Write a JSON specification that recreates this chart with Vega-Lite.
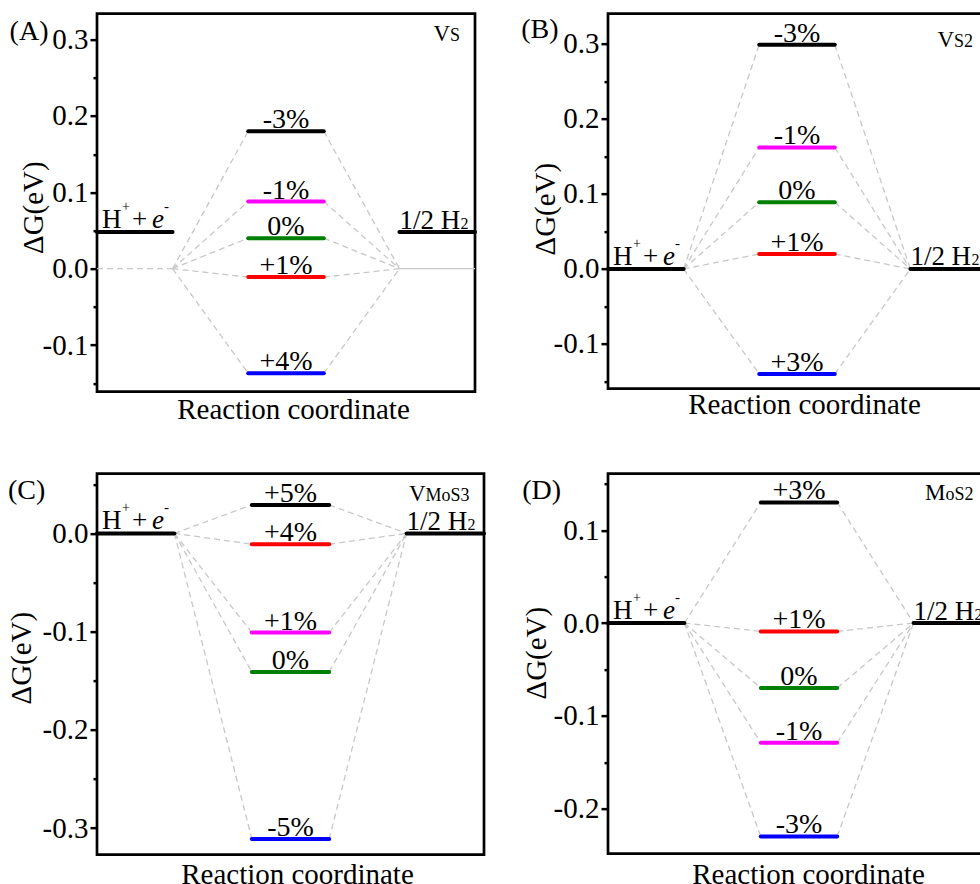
{
"$schema": "https://vega.github.io/schema/vega-lite/v6.json",
"padding": {"left": 5, "top": 11.65, "right": 0, "bottom": 0},
"bounds": "flush",
"columns": 2,
"spacing": {"row": 82, "column": 124},
"datasets": {
"levels": [
{"panel":"A","kind":"reactant","label":"H+ + e-","dg":0.048,"ref":0},
{"panel":"A","kind":"product","label":"1/2 H2","dg":0.048,"ref":0},
{"panel":"A","kind":"strain","label":"-3%","dg":0.18,"series":"1","ref":0},
{"panel":"A","kind":"strain","label":"-1%","dg":0.088,"series":"2","ref":0},
{"panel":"A","kind":"strain","label":"0%","dg":0.04,"series":"3","ref":0},
{"panel":"A","kind":"strain","label":"+1%","dg":-0.011,"series":"4","ref":0},
{"panel":"A","kind":"strain","label":"+4%","dg":-0.137,"series":"5","ref":0},
{"panel":"B","kind":"reactant","label":"H+ + e-","dg":0,"ref":0},
{"panel":"B","kind":"product","label":"1/2 H2","dg":0,"ref":0},
{"panel":"B","kind":"strain","label":"-3%","dg":0.299,"series":"1","ref":0},
{"panel":"B","kind":"strain","label":"-1%","dg":0.162,"series":"2","ref":0},
{"panel":"B","kind":"strain","label":"0%","dg":0.089,"series":"3","ref":0},
{"panel":"B","kind":"strain","label":"+1%","dg":0.02,"series":"4","ref":0},
{"panel":"B","kind":"strain","label":"+3%","dg":-0.14,"series":"5","ref":0},
{"panel":"C","kind":"reactant","label":"H+ + e-","dg":0,"ref":0},
{"panel":"C","kind":"product","label":"1/2 H2","dg":0,"ref":0},
{"panel":"C","kind":"strain","label":"+5%","dg":0.029,"series":"1","ref":0},
{"panel":"C","kind":"strain","label":"+4%","dg":-0.011,"series":"4","ref":0},
{"panel":"C","kind":"strain","label":"+1%","dg":-0.101,"series":"2","ref":0},
{"panel":"C","kind":"strain","label":"0%","dg":-0.141,"series":"3","ref":0},
{"panel":"C","kind":"strain","label":"-5%","dg":-0.311,"series":"5","ref":0},
{"panel":"D","kind":"reactant","label":"H+ + e-","dg":0,"ref":0},
{"panel":"D","kind":"product","label":"1/2 H2","dg":0,"ref":0},
{"panel":"D","kind":"strain","label":"+3%","dg":0.13,"series":"1","ref":0},
{"panel":"D","kind":"strain","label":"+1%","dg":-0.009,"series":"4","ref":0},
{"panel":"D","kind":"strain","label":"0%","dg":-0.07,"series":"3","ref":0},
{"panel":"D","kind":"strain","label":"-1%","dg":-0.129,"series":"2","ref":0},
{"panel":"D","kind":"strain","label":"-3%","dg":-0.23,"series":"5","ref":0}
],
"panels": [
{"panel":"A","letter":"(A)","site":"V","sub":"S"},
{"panel":"B","letter":"(B)","site":"V","sub":"S2"},
{"panel":"C","letter":"(C)","site":"V","sub":"MoS3"},
{"panel":"D","letter":"(D)","site":"M","sub":"oS2"}
]
},
"concat": [
{"width":378,"height":378,
"layer":[
{"data":{"name":"levels"},"transform":[{"filter":"datum.panel==='A' && datum.kind==='reactant'"}],
"mark":{"type":"rule","color":"#c8c8c8","strokeWidth":1.3,"strokeDash":[6,4]},
"encoding":{
"x":{"datum":0,"type":"quantitative","scale":{"domain":[0,5],"nice":false,"zero":false},"axis":{"title":"Reaction coordinate","titleX":196,"titleY":3.5}},
"x2":{"datum":1},
"y":{"field":"ref","type":"quantitative","scale":{"domain":[-0.161,0.334],"nice":false,"zero":false},
"axis":{"title":"ΔG(eV)","titleX":-49,"titleY":193.5,"values":[-0.15,-0.1,-0.05,0,0.05,0.1,0.15,0.2,0.25,0.3],
"labelExpr":"abs(datum.value*10-round(datum.value*10))<1e-6 ? replace(format(datum.value,'.1f'),'\u2212','-') : ''",
"tickSize":{"condition":{"test":"abs(datum.value*10-round(datum.value*10))<1e-6","value":7},"value":4}}}}},
{"data":{"name":"levels"},"transform":[{"filter":"datum.panel==='A' && datum.kind==='reactant'"}],
"mark":{"type":"rule","color":"#cccccc","strokeWidth":1.2},
"encoding":{"x":{"datum":4,"type":"quantitative"},"x2":{"datum":5},"y":{"field":"ref","type":"quantitative"}}},
{"data":{"name":"levels"},"transform":[{"filter":"datum.panel==='A' && datum.kind==='strain'"}],
"mark":{"type":"rule","color":"#c8c8c8","strokeWidth":1.3,"strokeDash":[6,4]},
"encoding":{"x":{"datum":1,"type":"quantitative"},"x2":{"datum":2},"y":{"field":"ref","type":"quantitative"},"y2":{"field":"dg"}}},
{"data":{"name":"levels"},"transform":[{"filter":"datum.panel==='A' && datum.kind==='strain'"}],
"mark":{"type":"rule","color":"#c8c8c8","strokeWidth":1.3,"strokeDash":[6,4]},
"encoding":{"x":{"datum":3,"type":"quantitative"},"x2":{"datum":4},"y":{"field":"dg","type":"quantitative"},"y2":{"field":"ref"}}},
{"data":{"name":"levels"},"transform":[{"filter":"datum.panel==='A' && datum.kind==='strain'"}],
"mark":{"type":"rule","strokeWidth":4,"strokeCap":"round"},
"encoding":{"x":{"datum":2,"type":"quantitative"},"x2":{"datum":3},"y":{"field":"dg","type":"quantitative"},
"color":{"field":"series","type":"nominal","scale":{"domain":["1","2","3","4","5"],"range":["#000000","#ff00ff","#007f00","#ff0000","#0000ff"]},"legend":null}}},
{"data":{"name":"levels"},"transform":[{"filter":"datum.panel==='A' && datum.kind==='reactant'"}],
"mark":{"type":"rule","strokeWidth":4,"strokeCap":"round","color":"#000000"},
"encoding":{"x":{"datum":0,"type":"quantitative"},"x2":{"datum":1},"y":{"field":"dg","type":"quantitative"}}},
{"data":{"name":"levels"},"transform":[{"filter":"datum.panel==='A' && datum.kind==='product'"}],
"mark":{"type":"rule","strokeWidth":4,"strokeCap":"round","color":"#000000"},
"encoding":{"x":{"datum":4,"type":"quantitative"},"x2":{"datum":5},"y":{"field":"dg","type":"quantitative"}}},
{"data":{"name":"levels"},"transform":[{"filter":"datum.panel==='A' && datum.kind==='strain'"}],
"mark":{"type":"text","align":"center","dy":-3,"fontSize":28},
"encoding":{"x":{"datum":2.5,"type":"quantitative"},"y":{"field":"dg","type":"quantitative"},"text":{"field":"label"}}},
{"data":{"name":"levels"},"transform":[{"filter":"datum.panel==='A' && datum.kind==='reactant'"}],
"mark":{"type":"text","text":"H","align":"left","dx":5,"dy":-4,"fontSize":27},
"encoding":{"x":{"datum":0,"type":"quantitative"},"y":{"field":"dg","type":"quantitative"}}},
{"data":{"name":"levels"},"transform":[{"filter":"datum.panel==='A' && datum.kind==='reactant'"}],
"mark":{"type":"text","text":"+","align":"left","dx":25,"dy":-21,"fontSize":14},
"encoding":{"x":{"datum":0,"type":"quantitative"},"y":{"field":"dg","type":"quantitative"}}},
{"data":{"name":"levels"},"transform":[{"filter":"datum.panel==='A' && datum.kind==='reactant'"}],
"mark":{"type":"text","text":"+","align":"left","dx":35,"dy":-4,"fontSize":27},
"encoding":{"x":{"datum":0,"type":"quantitative"},"y":{"field":"dg","type":"quantitative"}}},
{"data":{"name":"levels"},"transform":[{"filter":"datum.panel==='A' && datum.kind==='reactant'"}],
"mark":{"type":"text","text":"e","align":"left","dx":55,"dy":-4,"fontSize":27,"fontStyle":"italic"},
"encoding":{"x":{"datum":0,"type":"quantitative"},"y":{"field":"dg","type":"quantitative"}}},
{"data":{"name":"levels"},"transform":[{"filter":"datum.panel==='A' && datum.kind==='reactant'"}],
"mark":{"type":"text","text":"-","align":"left","dx":67,"dy":-21,"fontSize":15},
"encoding":{"x":{"datum":0,"type":"quantitative"},"y":{"field":"dg","type":"quantitative"}}},
{"data":{"name":"levels"},"transform":[{"filter":"datum.panel==='A' && datum.kind==='product'"}],
"mark":{"type":"text","text":"1/2 H","align":"left","dx":0,"dy":-3.5,"fontSize":27},
"encoding":{"x":{"datum":4,"type":"quantitative"},"y":{"field":"dg","type":"quantitative"}}},
{"data":{"name":"levels"},"transform":[{"filter":"datum.panel==='A' && datum.kind==='product'"}],
"mark":{"type":"text","text":"2","align":"left","dx":61,"dy":-3.5,"fontSize":16},
"encoding":{"x":{"datum":4,"type":"quantitative"},"y":{"field":"dg","type":"quantitative"}}},
{"data":{"name":"panels"},"transform":[{"filter":"datum.panel==='A'"}],
"mark":{"type":"text","align":"left","fontSize":28},
"encoding":{"x":{"datum":-1.156,"type":"quantitative"},"y":{"datum":0.299,"type":"quantitative"},"text":{"field":"letter"}}},
{"data":{"name":"panels"},"transform":[{"filter":"datum.panel==='A'"}],
"mark":{"type":"text","align":"left","fontSize":23},
"encoding":{"x":{"datum":4.452,"type":"quantitative"},"y":{"datum":0.2977,"type":"quantitative"},"text":{"field":"site"}}},
{"data":{"name":"panels"},"transform":[{"filter":"datum.panel==='A'"}],
"mark":{"type":"text","align":"left","fontSize":18,"dx":16.5},
"encoding":{"x":{"datum":4.452,"type":"quantitative"},"y":{"datum":0.2977,"type":"quantitative"},"text":{"field":"sub"}}}
]},
{"width":378,"height":375,
"layer":[
{"data":{"name":"levels"},"transform":[{"filter":"datum.panel==='B' && datum.kind==='reactant'"}],
"mark":{"type":"rule","color":"#c8c8c8","strokeWidth":1.3,"strokeDash":[6,4]},
"encoding":{
"x":{"datum":0,"type":"quantitative","scale":{"domain":[0,5],"nice":false,"zero":false},"axis":{"title":"Reaction coordinate","titleX":196,"titleY":1.5}},
"x2":{"datum":1},
"y":{"field":"ref","type":"quantitative","scale":{"domain":[-0.1596,0.3404],"nice":false,"zero":false},
"axis":{"title":"ΔG(eV)","titleX":-47,"titleY":195,"values":[-0.15,-0.1,-0.05,0,0.05,0.1,0.15,0.2,0.25,0.3],
"labelExpr":"abs(datum.value*10-round(datum.value*10))<1e-6 ? replace(format(datum.value,'.1f'),'\u2212','-') : ''",
"tickSize":{"condition":{"test":"abs(datum.value*10-round(datum.value*10))<1e-6","value":7},"value":4}}}}},
{"data":{"name":"levels"},"transform":[{"filter":"datum.panel==='B' && datum.kind==='reactant'"}],
"mark":{"type":"rule","color":"#cccccc","strokeWidth":1.2},
"encoding":{"x":{"datum":4,"type":"quantitative"},"x2":{"datum":5},"y":{"field":"ref","type":"quantitative"}}},
{"data":{"name":"levels"},"transform":[{"filter":"datum.panel==='B' && datum.kind==='strain'"}],
"mark":{"type":"rule","color":"#c8c8c8","strokeWidth":1.3,"strokeDash":[6,4]},
"encoding":{"x":{"datum":1,"type":"quantitative"},"x2":{"datum":2},"y":{"field":"ref","type":"quantitative"},"y2":{"field":"dg"}}},
{"data":{"name":"levels"},"transform":[{"filter":"datum.panel==='B' && datum.kind==='strain'"}],
"mark":{"type":"rule","color":"#c8c8c8","strokeWidth":1.3,"strokeDash":[6,4]},
"encoding":{"x":{"datum":3,"type":"quantitative"},"x2":{"datum":4},"y":{"field":"dg","type":"quantitative"},"y2":{"field":"ref"}}},
{"data":{"name":"levels"},"transform":[{"filter":"datum.panel==='B' && datum.kind==='strain'"}],
"mark":{"type":"rule","strokeWidth":4,"strokeCap":"round"},
"encoding":{"x":{"datum":2,"type":"quantitative"},"x2":{"datum":3},"y":{"field":"dg","type":"quantitative"},
"color":{"field":"series","type":"nominal","scale":{"domain":["1","2","3","4","5"],"range":["#000000","#ff00ff","#007f00","#ff0000","#0000ff"]},"legend":null}}},
{"data":{"name":"levels"},"transform":[{"filter":"datum.panel==='B' && datum.kind==='reactant'"}],
"mark":{"type":"rule","strokeWidth":4,"strokeCap":"round","color":"#000000"},
"encoding":{"x":{"datum":0,"type":"quantitative"},"x2":{"datum":1},"y":{"field":"dg","type":"quantitative"}}},
{"data":{"name":"levels"},"transform":[{"filter":"datum.panel==='B' && datum.kind==='product'"}],
"mark":{"type":"rule","strokeWidth":4,"strokeCap":"round","color":"#000000"},
"encoding":{"x":{"datum":4,"type":"quantitative"},"x2":{"datum":5},"y":{"field":"dg","type":"quantitative"}}},
{"data":{"name":"levels"},"transform":[{"filter":"datum.panel==='B' && datum.kind==='strain'"}],
"mark":{"type":"text","align":"center","dy":-3,"fontSize":28},
"encoding":{"x":{"datum":2.5,"type":"quantitative"},"y":{"field":"dg","type":"quantitative"},"text":{"field":"label"}}},
{"data":{"name":"levels"},"transform":[{"filter":"datum.panel==='B' && datum.kind==='reactant'"}],
"mark":{"type":"text","text":"H","align":"left","dx":5,"dy":-4,"fontSize":27},
"encoding":{"x":{"datum":0,"type":"quantitative"},"y":{"field":"dg","type":"quantitative"}}},
{"data":{"name":"levels"},"transform":[{"filter":"datum.panel==='B' && datum.kind==='reactant'"}],
"mark":{"type":"text","text":"+","align":"left","dx":25,"dy":-21,"fontSize":14},
"encoding":{"x":{"datum":0,"type":"quantitative"},"y":{"field":"dg","type":"quantitative"}}},
{"data":{"name":"levels"},"transform":[{"filter":"datum.panel==='B' && datum.kind==='reactant'"}],
"mark":{"type":"text","text":"+","align":"left","dx":35,"dy":-4,"fontSize":27},
"encoding":{"x":{"datum":0,"type":"quantitative"},"y":{"field":"dg","type":"quantitative"}}},
{"data":{"name":"levels"},"transform":[{"filter":"datum.panel==='B' && datum.kind==='reactant'"}],
"mark":{"type":"text","text":"e","align":"left","dx":55,"dy":-4,"fontSize":27,"fontStyle":"italic"},
"encoding":{"x":{"datum":0,"type":"quantitative"},"y":{"field":"dg","type":"quantitative"}}},
{"data":{"name":"levels"},"transform":[{"filter":"datum.panel==='B' && datum.kind==='reactant'"}],
"mark":{"type":"text","text":"-","align":"left","dx":67,"dy":-21,"fontSize":15},
"encoding":{"x":{"datum":0,"type":"quantitative"},"y":{"field":"dg","type":"quantitative"}}},
{"data":{"name":"levels"},"transform":[{"filter":"datum.panel==='B' && datum.kind==='product'"}],
"mark":{"type":"text","text":"1/2 H","align":"left","dx":0,"dy":-3.5,"fontSize":27},
"encoding":{"x":{"datum":4,"type":"quantitative"},"y":{"field":"dg","type":"quantitative"}}},
{"data":{"name":"levels"},"transform":[{"filter":"datum.panel==='B' && datum.kind==='product'"}],
"mark":{"type":"text","text":"2","align":"left","dx":61,"dy":-3.5,"fontSize":16},
"encoding":{"x":{"datum":4,"type":"quantitative"},"y":{"field":"dg","type":"quantitative"}}},
{"data":{"name":"panels"},"transform":[{"filter":"datum.panel==='B'"}],
"mark":{"type":"text","align":"left","fontSize":28},
"encoding":{"x":{"datum":-1.147,"type":"quantitative"},"y":{"datum":0.308,"type":"quantitative"},"text":{"field":"letter"}}},
{"data":{"name":"panels"},"transform":[{"filter":"datum.panel==='B'"}],
"mark":{"type":"text","align":"left","fontSize":23},
"encoding":{"x":{"datum":4.358,"type":"quantitative"},"y":{"datum":0.2964,"type":"quantitative"},"text":{"field":"site"}}},
{"data":{"name":"panels"},"transform":[{"filter":"datum.panel==='B'"}],
"mark":{"type":"text","align":"left","fontSize":18,"dx":16.5},
"encoding":{"x":{"datum":4.358,"type":"quantitative"},"y":{"datum":0.2964,"type":"quantitative"},"text":{"field":"sub"}}}
]},
{"width":387,"height":381,
"layer":[
{"data":{"name":"levels"},"transform":[{"filter":"datum.panel==='C' && datum.kind==='reactant'"}],
"mark":{"type":"rule","color":"#c8c8c8","strokeWidth":1.3,"strokeDash":[6,4]},
"encoding":{
"x":{"datum":0,"type":"quantitative","scale":{"domain":[0,5],"nice":false,"zero":false},"axis":{"title":"Reaction coordinate","titleX":200,"titleY":5.5}},
"x2":{"datum":1},
"y":{"field":"ref","type":"quantitative","scale":{"domain":[-0.327,0.0608],"nice":false,"zero":false},
"axis":{"title":"ΔG(eV)","titleX":-61,"titleY":184,"values":[-0.3,-0.25,-0.2,-0.15,-0.1,-0.05,0,0.05],
"labelExpr":"abs(datum.value*10-round(datum.value*10))<1e-6 ? replace(format(datum.value,'.1f'),'\u2212','-') : ''",
"tickSize":{"condition":{"test":"abs(datum.value*10-round(datum.value*10))<1e-6","value":7},"value":4}}}}},
{"data":{"name":"levels"},"transform":[{"filter":"datum.panel==='C' && datum.kind==='reactant'"}],
"mark":{"type":"rule","color":"#cccccc","strokeWidth":1.2},
"encoding":{"x":{"datum":4,"type":"quantitative"},"x2":{"datum":5},"y":{"field":"ref","type":"quantitative"}}},
{"data":{"name":"levels"},"transform":[{"filter":"datum.panel==='C' && datum.kind==='strain'"}],
"mark":{"type":"rule","color":"#c8c8c8","strokeWidth":1.3,"strokeDash":[6,4]},
"encoding":{"x":{"datum":1,"type":"quantitative"},"x2":{"datum":2},"y":{"field":"ref","type":"quantitative"},"y2":{"field":"dg"}}},
{"data":{"name":"levels"},"transform":[{"filter":"datum.panel==='C' && datum.kind==='strain'"}],
"mark":{"type":"rule","color":"#c8c8c8","strokeWidth":1.3,"strokeDash":[6,4]},
"encoding":{"x":{"datum":3,"type":"quantitative"},"x2":{"datum":4},"y":{"field":"dg","type":"quantitative"},"y2":{"field":"ref"}}},
{"data":{"name":"levels"},"transform":[{"filter":"datum.panel==='C' && datum.kind==='strain'"}],
"mark":{"type":"rule","strokeWidth":4,"strokeCap":"round"},
"encoding":{"x":{"datum":2,"type":"quantitative"},"x2":{"datum":3},"y":{"field":"dg","type":"quantitative"},
"color":{"field":"series","type":"nominal","scale":{"domain":["1","2","3","4","5"],"range":["#000000","#ff00ff","#007f00","#ff0000","#0000ff"]},"legend":null}}},
{"data":{"name":"levels"},"transform":[{"filter":"datum.panel==='C' && datum.kind==='reactant'"}],
"mark":{"type":"rule","strokeWidth":4,"strokeCap":"round","color":"#000000"},
"encoding":{"x":{"datum":0,"type":"quantitative"},"x2":{"datum":1},"y":{"field":"dg","type":"quantitative"}}},
{"data":{"name":"levels"},"transform":[{"filter":"datum.panel==='C' && datum.kind==='product'"}],
"mark":{"type":"rule","strokeWidth":4,"strokeCap":"round","color":"#000000"},
"encoding":{"x":{"datum":4,"type":"quantitative"},"x2":{"datum":5},"y":{"field":"dg","type":"quantitative"}}},
{"data":{"name":"levels"},"transform":[{"filter":"datum.panel==='C' && datum.kind==='strain'"}],
"mark":{"type":"text","align":"center","dy":-3,"fontSize":28},
"encoding":{"x":{"datum":2.5,"type":"quantitative"},"y":{"field":"dg","type":"quantitative"},"text":{"field":"label"}}},
{"data":{"name":"levels"},"transform":[{"filter":"datum.panel==='C' && datum.kind==='reactant'"}],
"mark":{"type":"text","text":"H","align":"left","dx":5,"dy":-4,"fontSize":27},
"encoding":{"x":{"datum":0,"type":"quantitative"},"y":{"field":"dg","type":"quantitative"}}},
{"data":{"name":"levels"},"transform":[{"filter":"datum.panel==='C' && datum.kind==='reactant'"}],
"mark":{"type":"text","text":"+","align":"left","dx":25,"dy":-21,"fontSize":14},
"encoding":{"x":{"datum":0,"type":"quantitative"},"y":{"field":"dg","type":"quantitative"}}},
{"data":{"name":"levels"},"transform":[{"filter":"datum.panel==='C' && datum.kind==='reactant'"}],
"mark":{"type":"text","text":"+","align":"left","dx":35,"dy":-4,"fontSize":27},
"encoding":{"x":{"datum":0,"type":"quantitative"},"y":{"field":"dg","type":"quantitative"}}},
{"data":{"name":"levels"},"transform":[{"filter":"datum.panel==='C' && datum.kind==='reactant'"}],
"mark":{"type":"text","text":"e","align":"left","dx":55,"dy":-4,"fontSize":27,"fontStyle":"italic"},
"encoding":{"x":{"datum":0,"type":"quantitative"},"y":{"field":"dg","type":"quantitative"}}},
{"data":{"name":"levels"},"transform":[{"filter":"datum.panel==='C' && datum.kind==='reactant'"}],
"mark":{"type":"text","text":"-","align":"left","dx":67,"dy":-21,"fontSize":15},
"encoding":{"x":{"datum":0,"type":"quantitative"},"y":{"field":"dg","type":"quantitative"}}},
{"data":{"name":"levels"},"transform":[{"filter":"datum.panel==='C' && datum.kind==='product'"}],
"mark":{"type":"text","text":"1/2 H","align":"left","dx":0,"dy":-3.5,"fontSize":27},
"encoding":{"x":{"datum":4,"type":"quantitative"},"y":{"field":"dg","type":"quantitative"}}},
{"data":{"name":"levels"},"transform":[{"filter":"datum.panel==='C' && datum.kind==='product'"}],
"mark":{"type":"text","text":"2","align":"left","dx":61,"dy":-3.5,"fontSize":16},
"encoding":{"x":{"datum":4,"type":"quantitative"},"y":{"field":"dg","type":"quantitative"}}},
{"data":{"name":"panels"},"transform":[{"filter":"datum.panel==='C'"}],
"mark":{"type":"text","align":"left","fontSize":28},
"encoding":{"x":{"datum":-1.15,"type":"quantitative"},"y":{"datum":0.035,"type":"quantitative"},"text":{"field":"letter"}}},
{"data":{"name":"panels"},"transform":[{"filter":"datum.panel==='C'"}],
"mark":{"type":"text","align":"left","fontSize":23},
"encoding":{"x":{"datum":4.03,"type":"quantitative"},"y":{"datum":0.0333,"type":"quantitative"},"text":{"field":"site"}}},
{"data":{"name":"panels"},"transform":[{"filter":"datum.panel==='C'"}],
"mark":{"type":"text","align":"left","fontSize":18,"dx":16.5},
"encoding":{"x":{"datum":4.03,"type":"quantitative"},"y":{"datum":0.0333,"type":"quantitative"},"text":{"field":"sub"}}}
]},
{"width":382,"height":380,
"layer":[
{"data":{"name":"levels"},"transform":[{"filter":"datum.panel==='D' && datum.kind==='reactant'"}],
"mark":{"type":"rule","color":"#c8c8c8","strokeWidth":1.3,"strokeDash":[6,4]},
"encoding":{
"x":{"datum":0,"type":"quantitative","scale":{"domain":[0,5],"nice":false,"zero":false},"axis":{"title":"Reaction coordinate","titleX":200,"titleY":6.5}},
"x2":{"datum":1},
"y":{"field":"ref","type":"quantitative","scale":{"domain":[-0.2485,0.161],"nice":false,"zero":false},
"axis":{"title":"ΔG(eV)","titleX":-56,"titleY":179,"values":[-0.2,-0.15,-0.1,-0.05,0,0.05,0.1,0.15],
"labelExpr":"abs(datum.value*10-round(datum.value*10))<1e-6 ? replace(format(datum.value,'.1f'),'\u2212','-') : ''",
"tickSize":{"condition":{"test":"abs(datum.value*10-round(datum.value*10))<1e-6","value":7},"value":4}}}}},
{"data":{"name":"levels"},"transform":[{"filter":"datum.panel==='D' && datum.kind==='reactant'"}],
"mark":{"type":"rule","color":"#cccccc","strokeWidth":1.2},
"encoding":{"x":{"datum":4,"type":"quantitative"},"x2":{"datum":5},"y":{"field":"ref","type":"quantitative"}}},
{"data":{"name":"levels"},"transform":[{"filter":"datum.panel==='D' && datum.kind==='strain'"}],
"mark":{"type":"rule","color":"#c8c8c8","strokeWidth":1.3,"strokeDash":[6,4]},
"encoding":{"x":{"datum":1,"type":"quantitative"},"x2":{"datum":2},"y":{"field":"ref","type":"quantitative"},"y2":{"field":"dg"}}},
{"data":{"name":"levels"},"transform":[{"filter":"datum.panel==='D' && datum.kind==='strain'"}],
"mark":{"type":"rule","color":"#c8c8c8","strokeWidth":1.3,"strokeDash":[6,4]},
"encoding":{"x":{"datum":3,"type":"quantitative"},"x2":{"datum":4},"y":{"field":"dg","type":"quantitative"},"y2":{"field":"ref"}}},
{"data":{"name":"levels"},"transform":[{"filter":"datum.panel==='D' && datum.kind==='strain'"}],
"mark":{"type":"rule","strokeWidth":4,"strokeCap":"round"},
"encoding":{"x":{"datum":2,"type":"quantitative"},"x2":{"datum":3},"y":{"field":"dg","type":"quantitative"},
"color":{"field":"series","type":"nominal","scale":{"domain":["1","2","3","4","5"],"range":["#000000","#ff00ff","#007f00","#ff0000","#0000ff"]},"legend":null}}},
{"data":{"name":"levels"},"transform":[{"filter":"datum.panel==='D' && datum.kind==='reactant'"}],
"mark":{"type":"rule","strokeWidth":4,"strokeCap":"round","color":"#000000"},
"encoding":{"x":{"datum":0,"type":"quantitative"},"x2":{"datum":1},"y":{"field":"dg","type":"quantitative"}}},
{"data":{"name":"levels"},"transform":[{"filter":"datum.panel==='D' && datum.kind==='product'"}],
"mark":{"type":"rule","strokeWidth":4,"strokeCap":"round","color":"#000000"},
"encoding":{"x":{"datum":4,"type":"quantitative"},"x2":{"datum":5},"y":{"field":"dg","type":"quantitative"}}},
{"data":{"name":"levels"},"transform":[{"filter":"datum.panel==='D' && datum.kind==='strain'"}],
"mark":{"type":"text","align":"center","dy":-3,"fontSize":28},
"encoding":{"x":{"datum":2.5,"type":"quantitative"},"y":{"field":"dg","type":"quantitative"},"text":{"field":"label"}}},
{"data":{"name":"levels"},"transform":[{"filter":"datum.panel==='D' && datum.kind==='reactant'"}],
"mark":{"type":"text","text":"H","align":"left","dx":5,"dy":-4,"fontSize":27},
"encoding":{"x":{"datum":0,"type":"quantitative"},"y":{"field":"dg","type":"quantitative"}}},
{"data":{"name":"levels"},"transform":[{"filter":"datum.panel==='D' && datum.kind==='reactant'"}],
"mark":{"type":"text","text":"+","align":"left","dx":25,"dy":-21,"fontSize":14},
"encoding":{"x":{"datum":0,"type":"quantitative"},"y":{"field":"dg","type":"quantitative"}}},
{"data":{"name":"levels"},"transform":[{"filter":"datum.panel==='D' && datum.kind==='reactant'"}],
"mark":{"type":"text","text":"+","align":"left","dx":35,"dy":-4,"fontSize":27},
"encoding":{"x":{"datum":0,"type":"quantitative"},"y":{"field":"dg","type":"quantitative"}}},
{"data":{"name":"levels"},"transform":[{"filter":"datum.panel==='D' && datum.kind==='reactant'"}],
"mark":{"type":"text","text":"e","align":"left","dx":55,"dy":-4,"fontSize":27,"fontStyle":"italic"},
"encoding":{"x":{"datum":0,"type":"quantitative"},"y":{"field":"dg","type":"quantitative"}}},
{"data":{"name":"levels"},"transform":[{"filter":"datum.panel==='D' && datum.kind==='reactant'"}],
"mark":{"type":"text","text":"-","align":"left","dx":67,"dy":-21,"fontSize":15},
"encoding":{"x":{"datum":0,"type":"quantitative"},"y":{"field":"dg","type":"quantitative"}}},
{"data":{"name":"levels"},"transform":[{"filter":"datum.panel==='D' && datum.kind==='product'"}],
"mark":{"type":"text","text":"1/2 H","align":"left","dx":0,"dy":-3.5,"fontSize":27},
"encoding":{"x":{"datum":4,"type":"quantitative"},"y":{"field":"dg","type":"quantitative"}}},
{"data":{"name":"levels"},"transform":[{"filter":"datum.panel==='D' && datum.kind==='product'"}],
"mark":{"type":"text","text":"2","align":"left","dx":61,"dy":-3.5,"fontSize":16},
"encoding":{"x":{"datum":4,"type":"quantitative"},"y":{"field":"dg","type":"quantitative"}}},
{"data":{"name":"panels"},"transform":[{"filter":"datum.panel==='D'"}],
"mark":{"type":"text","align":"left","fontSize":28},
"encoding":{"x":{"datum":-1.122,"type":"quantitative"},"y":{"datum":0.1337,"type":"quantitative"},"text":{"field":"letter"}}},
{"data":{"name":"panels"},"transform":[{"filter":"datum.panel==='D'"}],
"mark":{"type":"text","align":"left","fontSize":23},
"encoding":{"x":{"datum":4.149,"type":"quantitative"},"y":{"datum":0.1327,"type":"quantitative"},"text":{"field":"site"}}},
{"data":{"name":"panels"},"transform":[{"filter":"datum.panel==='D'"}],
"mark":{"type":"text","align":"left","fontSize":18,"dx":20.5},
"encoding":{"x":{"datum":4.149,"type":"quantitative"},"y":{"datum":0.1327,"type":"quantitative"},"text":{"field":"sub"}}}
]}
],
"config": {
"aria": false,
"font": "Liberation Serif",
"view": {"stroke": "#000000", "strokeWidth": 2.7},
"axis": {"grid": false, "domain": false, "labelFontSize": 29, "titleFontSize": 29, "titleFontWeight": "normal", "labelColor": "#000000", "titleColor": "#000000", "tickColor": "#000000", "tickWidth": 2.5},
"axisX": {"labels": false, "ticks": false, "titleBaseline": "top", "titleAlign": "center", "titleAngle": 0},
"axisY": {"labelPadding": 2, "labelOverlap": false, "titleAngle": 270, "titleBaseline": "bottom", "titleAlign": "center"},
"text": {"fontSize": 28, "color": "#000000", "baseline": "alphabetic"}
}
}
